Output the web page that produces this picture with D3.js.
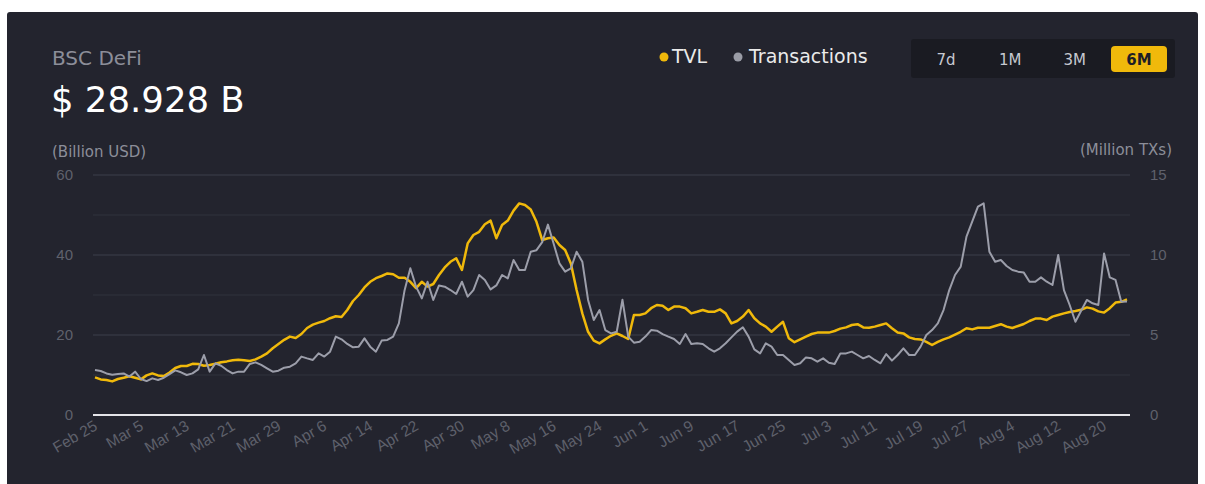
<!DOCTYPE html>
<html>
<head>
<meta charset="utf-8">
<script src="https://cdn.jsdelivr.net/npm/d3@7"></script>
<style>
  html, body { margin: 0; padding: 0; background: #fff; }
  svg { display: block; }
</style>
</head>
<body>
<div id="chart"></div>
<script>
// --- data (daily, Feb 25 -> Aug 24) -------------------------------------
const startDate = '2021-02-25';

// TVL, billion USD
const tvl = [
  9.4, 8.9, 8.75, 8.4, 9.0, 9.3, 9.7, 9.3, 8.9, 9.9,
  10.4, 9.9, 9.75, 10.6, 11.75, 12.25, 12.25, 12.8, 12.75, 12.3,
  12.5, 12.8, 13.2, 13.4, 13.7, 13.8, 13.7, 13.5, 13.9, 14.6,
  15.4, 16.7, 17.75, 18.8, 19.6, 19.25, 20.25, 21.75, 22.6, 23.1,
  23.5, 24.2, 24.7, 24.5, 26.25, 28.5, 30, 31.9, 33.3, 34.2,
  34.75, 35.4, 35.2, 34.3, 34.3, 33.3, 31.7, 33.3, 32.1, 32.75,
  35, 36.9, 38.3, 39.2, 36.25, 42.9, 45, 45.8, 47.7, 48.6,
  44.2, 47.5, 48.6, 51.1, 52.9, 52.5, 51.4, 48.3, 43.75, 44.2,
  44.4, 42.5, 41.25, 37.9, 31.25, 25.4, 20.8, 18.6, 17.9, 18.9,
  19.8, 20.4, 19.75, 19.0, 25.0, 25.0, 25.4, 26.7, 27.5, 27.3,
  26.25, 27.1, 27.1, 26.7, 25.4, 25.8, 26.25, 25.8, 25.8, 26.4,
  25.4, 22.9, 23.5, 24.6, 26.25, 24.2, 22.9, 22.1, 20.8, 22.1,
  23.3, 19.2, 18.2, 18.9, 19.6, 20.25, 20.6, 20.6, 20.6, 21,
  21.6, 21.9, 22.5, 22.7, 21.9, 21.8, 22.1, 22.5, 22.9, 21.7,
  20.6, 20.4, 19.4, 19, 18.9, 18.3, 17.5, 18.3, 18.9, 19.4,
  20.1, 20.8, 21.7, 21.4, 21.8, 21.8, 21.8, 22.25, 22.7, 22.1,
  21.75, 22.25, 22.75, 23.5, 24.1, 24.1, 23.75, 24.6, 25, 25.4,
  25.75, 26, 26.3, 26.9, 26.6, 25.9, 25.6, 26.7, 28.1, 28.3,
  28.9
];

// Transactions, million TXs
const txs = [
  2.81, 2.75, 2.6, 2.52, 2.56, 2.6, 2.4, 2.71, 2.25, 2.12,
  2.29, 2.19, 2.33, 2.56, 2.79, 2.67, 2.5, 2.6, 2.85, 3.75,
  2.71, 3.23, 3.08, 2.81, 2.6, 2.71, 2.71, 3.19, 3.29, 3.13,
  2.92, 2.71, 2.77, 2.96, 3.02, 3.23, 3.65, 3.54, 3.44, 3.85,
  3.65, 3.96, 4.9, 4.73, 4.44, 4.23, 4.27, 4.79, 4.27, 3.96,
  4.65, 4.69, 4.9, 5.73, 7.8, 9.17, 8.02, 7.29, 8.33, 7.19,
  8.1, 8.02, 7.81, 7.56, 8.33, 7.4, 7.81, 8.75, 8.44, 7.85,
  8.1, 8.75, 8.54, 9.69, 9.06, 9.06, 10.2, 10.3, 10.8, 11.9,
  10.7, 9.48, 8.96, 9.17, 10.2, 9.58, 7.19, 5.94, 6.56, 5.31,
  5.1, 5.2, 7.2, 4.9, 4.52, 4.58, 4.9, 5.31, 5.27, 5.06,
  4.9, 4.75, 4.44, 5.06, 4.44, 4.48, 4.44, 4.17, 3.96, 4.17,
  4.48, 4.85, 5.21, 5.48, 4.9, 4.1, 3.85, 4.48, 4.27, 3.75,
  3.75, 3.44, 3.125, 3.23, 3.6, 3.54, 3.33, 3.54, 3.27, 3.19,
  3.85, 3.85, 3.96, 3.75, 3.54, 3.69, 3.44, 3.23, 3.81, 3.4,
  3.75, 4.17, 3.75, 3.75, 4.27, 5.0, 5.31, 5.73, 6.56, 7.81,
  8.75, 9.27, 11.15, 12.08, 13.02, 13.23, 10.2, 9.58, 9.69, 9.31,
  9.06, 8.96, 8.9, 8.33, 8.33, 8.6, 8.33, 8.125, 10, 7.81,
  6.875, 5.83, 6.52, 7.19, 6.98, 6.875, 10.1, 8.6, 8.44, 7.08,
  7.1
];

const xTickLabels = ['Feb 25', 'Mar 5', 'Mar 13', 'Mar 21', 'Mar 29', 'Apr 6',
  'Apr 14', 'Apr 22', 'Apr 30', 'May 8', 'May 16', 'May 24', 'Jun 1', 'Jun 9',
  'Jun 17', 'Jun 25', 'Jul 3', 'Jul 11', 'Jul 19', 'Jul 27', 'Aug 4', 'Aug 12', 'Aug 20'];
const leftTicks = [0, 20, 40, 60];
const rightTicks = [0, 5, 10, 15];
const gridMinor = [10, 30, 50];
const ranges = ['7d', '1M', '3M', '6M'];
const activeRange = '6M';

// --- layout ----------------------------------------------------------------
const W = 1205, H = 484;
const plot = { left: 93, right: 1130, top: 175, bottom: 415 };
const YELLOW = '#f0b90b';
const GREY = '#9c9eaa';
const HEAD_FONT = "'DejaVu Sans', sans-serif";
const AXIS_FONT = "'Liberation Sans', Arial, sans-serif";

const svg = d3.select('#chart').append('svg')
  .attr('width', W)
  .attr('height', H);

// dark panel
svg.append('rect')
  .attr('x', 7).attr('y', 12)
  .attr('width', 1191).attr('height', H)
  .attr('rx', 3)
  .attr('fill', '#23242e');

// scales
const parseDay = d3.timeParse('%Y-%m-%d');
const t0 = parseDay(startDate);
const dates = tvl.map((_, i) => d3.timeDay.offset(t0, i));

const x = d3.scaleTime()
  .domain([dates[0], dates[dates.length - 1]])
  .range([95, 1127]);
const yL = d3.scaleLinear().domain([0, 60]).range([plot.bottom, plot.top]);
const yR = d3.scaleLinear().domain([0, 15]).range([plot.bottom, plot.top]);

// header
svg.append('text')
  .attr('x', 52).attr('y', 65)
  .attr('font-family', HEAD_FONT).attr('font-size', 20)
  .attr('fill', '#8c8e99')
  .text('BSC DeFi');

svg.append('text')
  .attr('x', 51).attr('y', 112)
  .attr('font-family', HEAD_FONT).attr('font-size', 35.5)
  .attr('fill', '#ffffff')
  .text('$ 28.928 B');

svg.append('text')
  .attr('x', 52).attr('y', 157)
  .attr('font-family', HEAD_FONT).attr('font-size', 15)
  .attr('fill', '#8c8e99')
  .text('(Billion USD)');

svg.append('text')
  .attr('x', 1172).attr('y', 155)
  .attr('text-anchor', 'end')
  .attr('font-family', HEAD_FONT).attr('font-size', 15)
  .attr('fill', '#8c8e99')
  .text('(Million TXs)');

// legend
const legend = svg.append('g').attr('font-family', HEAD_FONT).attr('font-size', 19);
legend.append('circle').attr('cx', 664).attr('cy', 57).attr('r', 4.5).attr('fill', YELLOW);
legend.append('text').attr('x', 672).attr('y', 63).attr('fill', '#eaeaea').text('TVL');
legend.append('circle').attr('cx', 738).attr('cy', 57).attr('r', 4.5).attr('fill', '#9a9ca6');
legend.append('text').attr('x', 749).attr('y', 63).attr('fill', '#eaeaea').text('Transactions');

// range buttons
const btns = svg.append('g');
btns.append('rect')
  .attr('x', 911).attr('y', 39)
  .attr('width', 264).attr('height', 39)
  .attr('rx', 3)
  .attr('fill', '#1a1b22');
const bx = d3.scalePoint().domain(ranges).range([946, 1139]);
btns.selectAll('rect.on')
  .data(ranges.filter(r => r === activeRange))
  .join('rect')
    .attr('class', 'on')
    .attr('x', d => bx(d) - 28).attr('y', 46)
    .attr('width', 56).attr('height', 26)
    .attr('rx', 4)
    .attr('fill', YELLOW);
btns.selectAll('text')
  .data(ranges)
  .join('text')
    .attr('x', d => bx(d)).attr('y', 65)
    .attr('text-anchor', 'middle')
    .attr('font-family', HEAD_FONT).attr('font-size', 15)
    .attr('font-weight', d => d === activeRange ? 600 : 400)
    .attr('fill', d => d === activeRange ? '#1e1f26' : '#c7c9d1')
    .text(d => d);

// grid
const grid = svg.append('g');
grid.selectAll('line.major')
  .data(leftTicks.filter(d => d > 0))
  .join('line')
    .attr('class', 'major')
    .attr('x1', plot.left).attr('x2', plot.right)
    .attr('y1', d => yL(d)).attr('y2', d => yL(d))
    .attr('stroke', '#3d3f4b').attr('stroke-width', 1);
grid.selectAll('line.minor')
  .data(gridMinor)
  .join('line')
    .attr('class', 'minor')
    .attr('x1', plot.left).attr('x2', plot.right)
    .attr('y1', d => yL(d)).attr('y2', d => yL(d))
    .attr('stroke', '#30323d').attr('stroke-width', 1);

// y axes
const axL = svg.append('g')
  .attr('transform', `translate(${plot.left - 20},0)`)
  .call(d3.axisLeft(yL).tickValues(leftTicks).tickSize(0).tickPadding(0));
const axR = svg.append('g')
  .attr('transform', `translate(${plot.right + 20},0)`)
  .call(d3.axisRight(yR).tickValues(rightTicks).tickSize(0).tickPadding(0));
[axL, axR].forEach(ax => {
  ax.select('.domain').remove();
  ax.selectAll('text')
    .attr('font-family', AXIS_FONT).attr('font-size', 15)
    .attr('fill', '#5f616c');
});

// x axis
const parseTick = d3.timeParse('%b %d %Y');
const tickDates = xTickLabels.map(s => parseTick(s + ' 2021'));
const axX = svg.append('g')
  .attr('transform', `translate(0,${plot.bottom})`)
  .call(d3.axisBottom(x).tickValues(tickDates).tickSize(0).tickPadding(0)
    .tickFormat((d, i) => xTickLabels[i]));
axX.select('.domain').remove();
axX.selectAll('text')
  .attr('font-family', AXIS_FONT).attr('font-size', 15.5)
  .attr('fill', '#5e606b')
  .attr('text-anchor', 'end')
  .attr('dy', 0)
  .attr('transform', 'translate(3,14) rotate(-30)');

// baseline
svg.append('line')
  .attr('x1', plot.left).attr('x2', plot.right)
  .attr('y1', plot.bottom).attr('y2', plot.bottom)
  .attr('stroke', '#e4e4e8').attr('stroke-width', 2);

// lines
const lineTvl = d3.line().x((d, i) => x(dates[i])).y(d => yL(d));
const lineTx = d3.line().x((d, i) => x(dates[i])).y(d => yR(d));

svg.append('path')
  .datum(tvl)
  .attr('fill', 'none')
  .attr('stroke', YELLOW)
  .attr('stroke-width', 2.5)
  .attr('stroke-linejoin', 'round')
  .attr('d', lineTvl);

svg.append('path')
  .datum(txs)
  .attr('fill', 'none')
  .attr('stroke', GREY)
  .attr('stroke-width', 2)
  .attr('stroke-linejoin', 'round')
  .attr('d', lineTx);
</script>
</body>
</html>
